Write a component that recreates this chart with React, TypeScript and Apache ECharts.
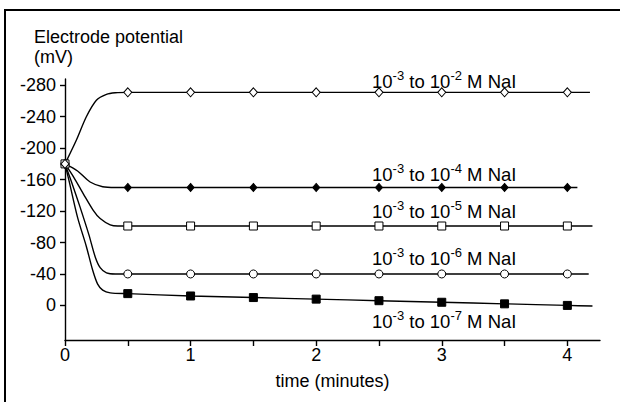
import React, { useEffect, useRef } from "react";
import * as echarts from "echarts";

// ---- data ----
const markTime = [0.5, 1, 1.5, 2, 2.5, 3, 3.5, 4];
const xTickValues = [0, 0.5, 1, 1.5, 2, 2.5, 3, 3.5, 4];
const xLabelValues = [0, 1, 2, 3, 4];
const yTickValues = [-280, -240, -200, -160, -120, -80, -40, 0];

// 10^-3 -> 10^-2 M NaI
const riseTime2 = [0, 0.09, 0.17, 0.25, 0.33, 0.4];
const riseValue2 = [-180, -210, -240, -261, -268.5, -270.5];
const markValue2 = [-271, -271, -271, -271, -271, -271, -271, -271];
const endTime2 = 4.18;
const endValue2 = -271;

// 10^-3 -> 10^-4 M NaI
const riseTime4 = [0, 0.1, 0.2, 0.3, 0.4];
const riseValue4 = [-180, -171, -157, -151, -150];
const markValue4 = [-150, -150, -150, -150, -150, -150, -150, -150];
const endTime4 = 4.08;
const endValue4 = -150;

// 10^-3 -> 10^-5 M NaI
const riseTime5 = [0, 0.07, 0.146, 0.225, 0.28, 0.36, 0.42];
const riseValue5 = [-180, -163, -142, -121, -110.5, -102.5, -101];
const markValue5 = [-101, -101, -101, -101, -101, -101, -101, -101];
const endTime5 = 4.2;
const endValue5 = -101;

// 10^-3 -> 10^-6 M NaI
const riseTime6 = [0, 0.05, 0.12, 0.19, 0.24, 0.28, 0.33, 0.4];
const riseValue6 = [-180, -158, -125, -90, -62, -48, -41.5, -40];
const markValue6 = [-40, -40, -40, -40, -40, -40, -40, -40];
const endTime6 = 4.17;
const endValue6 = -40;

// 10^-3 -> 10^-7 M NaI
const riseTime7 = [0, 0.03, 0.1, 0.17, 0.22, 0.26, 0.3, 0.36];
const riseValue7 = [-180, -160, -112, -75, -45, -27, -19.5, -16];
const markValue7 = [-15, -12, -10, -8, -6, -4, -2, 0];
const endTime7 = 4.2;
const endValue7 = 0.8;

const seriesLabels = [
  "{b|10}{s|-3}{b| to 10}{s|-2}{b| M NaI}",
  "{b|10}{s|-3}{b| to 10}{s|-4}{b| M NaI}",
  "{b|10}{s|-3}{b| to 10}{s|-5}{b| M NaI}",
  "{b|10}{s|-3}{b| to 10}{s|-6}{b| M NaI}",
  "{b|10}{s|-3}{b| to 10}{s|-7}{b| M NaI}",
];

const FAMILY = "'Liberation Sans', Arial, Helvetica, sans-serif";

function zip(t: number[], v: number[]) {
  return t.map((x, i) => [x, v[i]]);
}

function lineData(rt: number[], rv: number[], mv: number[], et: number, ev: number) {
  return [...zip(rt, rv), ...zip(markTime, mv), [et, ev]];
}

export default function App() {
  const ref = useRef<HTMLDivElement>(null);
  useEffect(() => {
    if (!ref.current) return;
    const chart = echarts.init(ref.current, null, { renderer: "svg" });

    const lineStyle = { color: "#000", width: 1.4 };
    const mkLine = (data: number[][]) => ({
      type: "line",
      data,
      showSymbol: false,
      symbol: "none",
      smooth: 0.3,
      lineStyle,
      z: 2,
      silent: true,
    });
    const mkMarks = (
      data: number[][],
      symbol: string,
      size: number | number[],
      fill: string
    ) => ({
      type: "scatter",
      data,
      symbol,
      symbolSize: size,
      itemStyle: { color: fill, borderColor: "#000", borderWidth: 1, opacity: 1 },
      z: 5,
      silent: true,
    });

    const rich = {
      b: {
        font: `18.5px ${FAMILY}`,
        fontSize: 18.5,
        fontFamily: FAMILY,
        lineHeight: 22,
        fill: "#000",
        verticalAlign: "bottom",
      },
      s: {
        font: `13px ${FAMILY}`,
        fontSize: 13,
        fontFamily: FAMILY,
        lineHeight: 14,
        fill: "#000",
        verticalAlign: "top",
      },
    };
    const labelY = [80, 173, 210, 257, 320];
    const labelGraphics = seriesLabels.map((t, i) => ({
      type: "text",
      x: 372,
      y: labelY[i],
      style: {
        text: t,
        rich,
        fill: "#000",
        verticalAlign: "middle",
        align: "left",
        font: `18.5px ${FAMILY}`,
      },
      z: 10,
    }));

    chart.setOption({
      animation: false,
      backgroundColor: "#fff",
      textStyle: { fontFamily: FAMILY, color: "#000" },
      grid: { left: 65, right: 20, top: 79, bottom: 62, containLabel: false },
      xAxis: {
        type: "value",
        min: 0,
        max: 4.26,
        name: "time (minutes)",
        nameLocation: "middle",
        nameGap: 32,
        nameTextStyle: { fontSize: 18, color: "#000", fontFamily: FAMILY },
        axisLine: { show: true, onZero: false, lineStyle: { color: "#000", width: 1.4 } },
        axisTick: {
          show: true,
          customValues: xTickValues,
          length: 6,
          inside: false,
          lineStyle: { color: "#000", width: 1.4 },
        },
        axisLabel: {
          customValues: xLabelValues,
          fontSize: 18,
          color: "#000",
          margin: 6,
          fontFamily: FAMILY,
          formatter: (v: number) => String(v),
        },
        splitLine: { show: false },
      },
      yAxis: {
        type: "value",
        inverse: true,
        min: -288,
        max: 44,
        axisLine: { show: true, onZero: false, lineStyle: { color: "#000", width: 1.4 } },
        axisTick: {
          show: true,
          customValues: yTickValues,
          length: 5,
          inside: false,
          lineStyle: { color: "#000", width: 1.4 },
        },
        axisLabel: {
          customValues: yTickValues,
          fontSize: 18,
          color: "#000",
          margin: 9,
          fontFamily: FAMILY,
          formatter: (v: number) => String(v),
        },
        splitLine: { show: false },
      },
      graphic: [
        {
          type: "rect",
          shape: { x: 5, y: 10, width: 900, height: 700 },
          style: { fill: "none", stroke: "#000", lineWidth: 2 },
          z: 1,
          silent: true,
        },
        {
          type: "text",
          x: 34,
          y: 27,
          style: {
            text: "Electrode potential\n(mV)",
            font: `18px ${FAMILY}`,
            fill: "#000",
            lineHeight: 20,
            verticalAlign: "top",
            align: "left",
          },
        },
        ...labelGraphics,
      ],
      series: [
        mkLine(lineData(riseTime2, riseValue2, markValue2, endTime2, endValue2)),
        mkLine(lineData(riseTime4, riseValue4, markValue4, endTime4, endValue4)),
        mkLine(lineData(riseTime5, riseValue5, markValue5, endTime5, endValue5)),
        mkLine(lineData(riseTime6, riseValue6, markValue6, endTime6, endValue6)),
        mkLine(lineData(riseTime7, riseValue7, markValue7, endTime7, endValue7)),
        mkMarks(zip(markTime, markValue7), "rect", 8, "#000"),
        mkMarks(zip(markTime, markValue4), "diamond", [7, 8], "#000"),
        mkMarks([[riseTime6[0], riseValue6[0]], ...zip(markTime, markValue6)], "circle", 8, "#fff"),
        mkMarks([[riseTime5[0], riseValue5[0]], ...zip(markTime, markValue5)], "rect", 8, "#fff"),
        mkMarks([[riseTime2[0], riseValue2[0]], ...zip(markTime, markValue2)], "diamond", [8, 9], "#fff"),
      ],
    });
    return () => chart.dispose();
  }, []);

  return (
    <div
      ref={ref}
      style={{ position: "fixed", left: 0, top: 0, width: 620, height: 402, background: "#fff" }}
    />
  );
}
